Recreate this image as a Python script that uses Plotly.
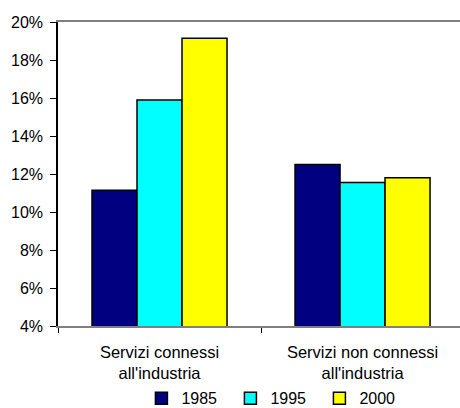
import plotly.graph_objects as go

categories = ["Servizi connessi<br>all'industria", "Servizi non connessi<br>all'industria"]
series_names = ["1985", "1995", "2000"]
v1985 = [11.15, 12.5]
v1995 = [15.9, 11.55]
v2000 = [19.15, 11.8]
colors = ["#000080", "#00FFFF", "#FFFF00"]
y_ticks = [4, 6, 8, 10, 12, 14, 16, 18, 20]
y_ticklabels = ["4%", "6%", "8%", "10%", "12%", "14%", "16%", "18%", "20%"]

FONT = "Liberation Sans, Arial, sans-serif"

fig = go.Figure()
for name, vals, col in zip(series_names, [v1985, v1995, v2000], colors):
    fig.add_trace(go.Bar(
        x=categories, y=vals, name=name,
        marker=dict(color=col, line=dict(color="#000000", width=1.5)),
    ))

fig.update_layout(
    width=460, height=408,
    margin=dict(l=58, r=0, t=22, b=82, autoexpand=False),
    paper_bgcolor="white", plot_bgcolor="white",
    barmode="group", bargap=0.335, bargroupgap=0,
    font=dict(family=FONT, size=16, color="#000000"),
    showlegend=True,
    legend=dict(
        orientation="h", x=0.2075, xanchor="left", y=-0.182, yanchor="top",
        entrywidth=44, entrywidthmode="pixels",
        font=dict(family=FONT, size=16, color="#000000"),
        bgcolor="rgba(0,0,0,0)",
    ),
    xaxis=dict(
        type="category", range=[-0.5, 1.48],
        showline=True, linecolor="#808080", linewidth=1.5, mirror=True,
        ticks="outside", ticklen=5, tickcolor="#000000", tickwidth=1,
        tickson="boundaries", showgrid=False,
        tickfont=dict(family=FONT, size=16.5),
        ticklabelstandoff=10,
    ),
    yaxis=dict(
        range=[4, 20], tickvals=y_ticks, ticktext=y_ticklabels,
        showline=True, linecolor="#000000", linewidth=1.5,
        ticks="outside", ticklen=6, tickcolor="#000000", tickwidth=1,
        showgrid=False, zeroline=False,
        tickfont=dict(family=FONT, size=16),
        ticklabelstandoff=4,
    ),
)

fig.write_html("out.html")
